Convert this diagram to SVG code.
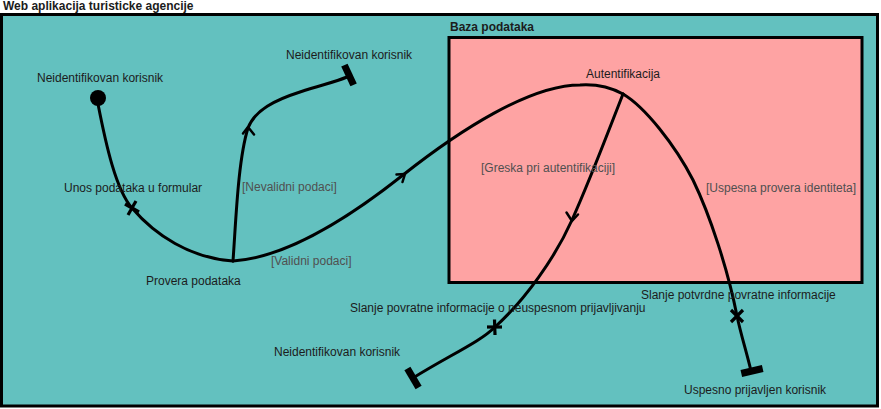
<svg xmlns="http://www.w3.org/2000/svg" width="881" height="409" viewBox="0 0 881 409">
<style>
text{font-family:"Liberation Sans",Arial,sans-serif;font-size:12px;fill:#1c1c1c}
.title{font-weight:bold}
.guard{fill:#505050}
.edge{fill:none;stroke:#000;stroke-width:3;stroke-linecap:round;stroke-linejoin:round}
.arrow{fill:none;stroke:#000;stroke-width:2.5;stroke-linecap:round;stroke-linejoin:round}
.bar{stroke:#000;stroke-width:7}
.xmark{stroke:#000;stroke-width:3.2;stroke-linecap:butt}
</style>
<rect x="0" y="0" width="881" height="409" fill="#ffffff"/>
<g id="frame">
<rect x="1.5" y="14.5" width="876" height="391.5" fill="#63c1bf" stroke="#000" stroke-width="3"/>
<text class="title" x="3" y="10">Web aplikacija turisticke agencije</text>
</g>
<g id="baza">
<rect x="449" y="37.5" width="413" height="245" fill="#fea3a3" stroke="#000" stroke-width="3"/>
<text class="title" x="450" y="31">Baza podataka</text>
</g>
<g id="connectors">
<path class="edge" d="M98 104 C106 145,116 190,132 208"/>
<path class="edge" d="M132 208 C155 235,190 258,233 261"/>
<path class="edge" d="M233 261 C280 258,340 225,403 175 C460 130,530 85,580 85 C595 84,610 87,623 94"/>
<path class="edge" d="M233 261 C236 220,238 160,248 128 C255 110,275 100,300 92 S335 82,347 77"/>
<path class="edge" d="M623 94 C605 140,590 180,572 220 C555 258,525 300,495 327"/>
<path class="edge" d="M495 327 C480 342,450 355,413 378"/>
<path class="edge" d="M623 94 C645 107,675 145,693 180 C710 215,728 270,737 316"/>
<path class="edge" d="M737 316 C741 335,746 350,751 371"/>
<polyline class="arrow" points="396.5,174.5 405,174 402.5,182"/>
<polyline class="arrow" points="243,133.5 248,127 254,134.5"/>
<polyline class="arrow" points="566.5,212.5 572,221 578,214.5"/>
</g>
<g id="start">
<circle cx="98" cy="98" r="8" fill="#000"/>
<text x="37" y="82">Neidentifikovan korisnik</text>
</g>
<g id="unos">
<line class="xmark" x1="125" y1="204" x2="139" y2="212"/>
<line class="xmark" x1="136" y1="201" x2="128" y2="215"/>
<text x="64" y="192">Unos podataka u formular</text>
</g>
<g id="provera">
<text x="146" y="285">Provera podataka</text>
</g>
<g id="guard-nevalidni"><text class="guard" x="242" y="191">[Nevalidni podaci]</text></g>
<g id="guard-validni"><text class="guard" x="271" y="265">[Validni podaci]</text></g>
<g id="end-top">
<line class="bar" x1="344.4" y1="65.1" x2="353.6" y2="84.9"/>
<text x="286" y="59">Neidentifikovan korisnik</text>
</g>
<g id="autentifikacija">
<text x="586" y="78">Autentifikacija</text>
</g>
<g id="guard-greska"><text class="guard" x="481" y="172">[Greska pri autentifikaciji]</text></g>
<g id="guard-uspesna"><text class="guard" x="706" y="192">[Uspesna provera identiteta]</text></g>
<g id="slanje-neuspeh">
<line class="xmark" x1="487" y1="327" x2="502" y2="327"/>
<line class="xmark" x1="494.5" y1="319.5" x2="495" y2="335"/>
<text x="350" y="312">Slanje povratne informacije o neuspesnom prijavljivanju</text>
</g>
<g id="end-bottom-left">
<line class="bar" x1="407.4" y1="368.5" x2="418.6" y2="387.5"/>
<text x="274" y="356">Neidentifikovan korisnik</text>
</g>
<g id="slanje-potvrda">
<line class="xmark" x1="731" y1="310" x2="743" y2="322"/>
<line class="xmark" x1="743" y1="310" x2="731" y2="322"/>
<text x="641" y="299">Slanje potvrdne povratne informacije</text>
</g>
<g id="end-bottom-right">
<line class="bar" x1="741.3" y1="373.5" x2="762.7" y2="368.5"/>
<text x="684" y="394">Uspesno prijavljen korisnik</text>
</g>
</svg>
